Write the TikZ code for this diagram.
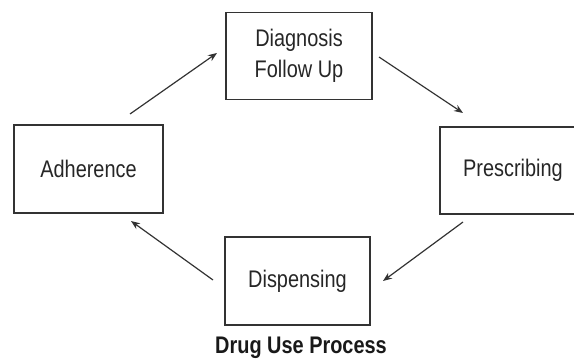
\documentclass[tikz,border=0pt]{standalone}
\usepackage{fontspec}
\setmainfont{Liberation Sans}[FakeStretch=0.83]
\usetikzlibrary{arrows.meta}
\begin{document}
\begin{tikzpicture}[x=1pt,y=-1pt,
  stagebox/.style={draw=black!80,line width=1.3pt,minimum width=146pt,minimum height=87pt,
    align=center,inner sep=0pt,font=\fontsize{24}{31}\selectfont,text=black!85},
  flow/.style={draw=black!80,line width=1.2pt,-{Stealth[length=9pt,width=7pt]}}]
\useasboundingbox (0,0) rectangle (574,361);
\clip (0,0) rectangle (574,361);
% the four stages of the cycle
\node[stagebox] (diag) at (299,56) {Diagnosis\\Follow Up};
\node[stagebox,minimum width=149pt,minimum height=88pt] (adh) at (88.5,169) {Adherence};
\node[stagebox] (pres) at (513,170.5) {Prescribing};
\node[stagebox,minimum width=145pt,minimum height=88pt] (disp) at (297.5,281) {Dispensing};
% title
\node[font=\fontsize{24}{28}\selectfont\bfseries,text=black!90] (title) at (301,348) {Drug Use Process};
% arrow end points between the boxes
\coordinate (a1) at (130,114);
\coordinate (a2) at (217,53);
\coordinate (b1) at (379,57);
\coordinate (b2) at (463,113);
\coordinate (c1) at (463,222);
\coordinate (c2) at (383,281);
\coordinate (d1) at (213,280);
\coordinate (d2) at (131,221);
\draw[flow] (a1) -- (a2);
\draw[flow] (b1) -- (b2);
\draw[flow] (c1) -- (c2);
\draw[flow] (d1) -- (d2);
\end{tikzpicture}
\end{document}
